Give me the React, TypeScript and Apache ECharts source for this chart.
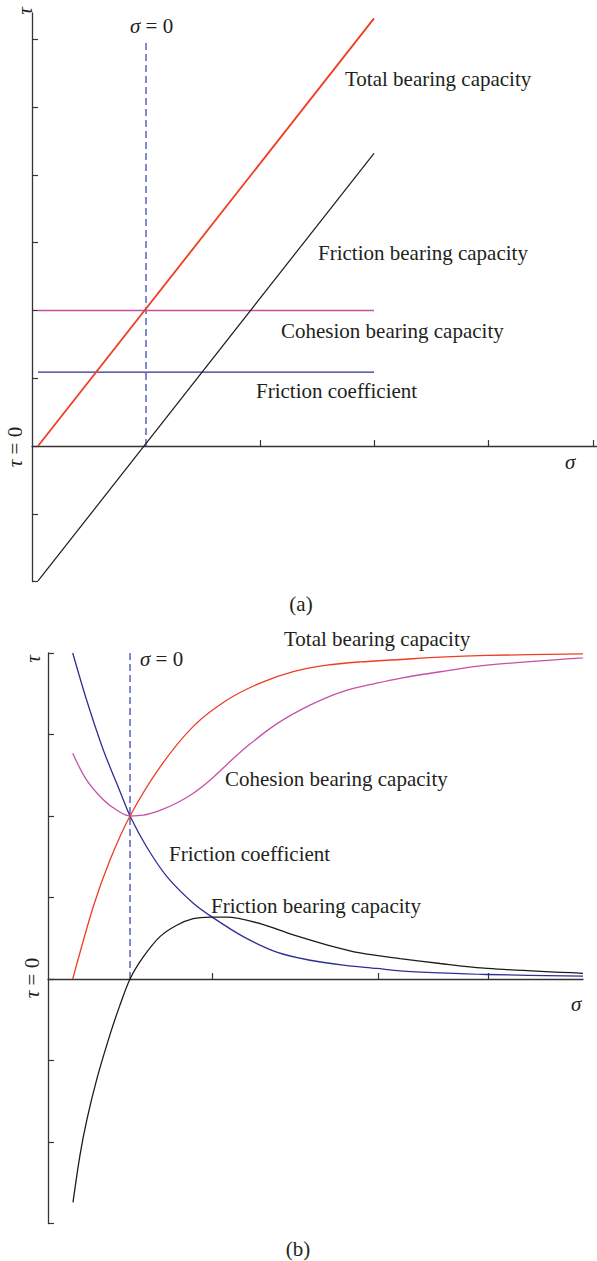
import React, { useEffect, useRef } from "react";
import * as echarts from "echarts";

// ---- Panel (a): linear model ----
const aSigma = [0.053, 3.0];
const aTotal = [0, 6.31];
const aFriction = [-1.99, 4.32];
const aCohesion = [2.0, 2.0];
const aCoefficient = [1.09, 1.09];
const aZeroLineSigma = 1.0;
const aZeroLineTau = [0, 6];
const aXTicks = [2, 3, 4, 4.92];
const aYTicks = [-2, -1, 0, 1, 2, 3, 4, 5, 6];

// ---- Panel (b): nonlinear model ----
const bTotalSigma = [0.462, 0.847, 1.159, 1.533, 2.093, 2.716, 3.34, 3.963, 4.585, 5.209, 5.832, 6.579, 7.33, 8.21, 10];
const bTotal = [0, 0.89, 1.46, 2.0, 2.6, 3.1, 3.42, 3.63, 3.77, 3.85, 3.89, 3.92, 3.95, 3.97, 3.99];

const bCohesionSigma = [0.462, 0.723, 1.034, 1.29, 1.533, 1.781, 2.093, 2.406, 2.716, 3.028, 3.34, 3.714, 4.275, 4.897, 5.52, 6.144, 6.579, 7.33, 8.21, 10];
const bCohesion = [2.77, 2.44, 2.2, 2.07, 2.0, 2.01, 2.07, 2.16, 2.28, 2.44, 2.63, 2.85, 3.13, 3.36, 3.53, 3.63, 3.69, 3.77, 3.85, 3.94];

const bCoefficientSigma = [0.462, 0.723, 1.034, 1.346, 1.533, 1.845, 2.219, 2.716, 3.09, 3.65, 4.275, 4.897, 5.52, 6.144, 6.579, 7.33, 8.21, 10];
const bCoefficient = [4.0, 3.42, 2.81, 2.3, 2.0, 1.62, 1.26, 0.93, 0.75, 0.52, 0.33, 0.23, 0.17, 0.13, 0.1, 0.075, 0.055, 0.035];

const bFrictionSigma = [0.467, 0.598, 0.729, 0.916, 1.16, 1.34, 1.533, 1.781, 2.093, 2.406, 2.716, 3.028, 3.34, 3.963, 4.585, 5.209, 5.832, 6.579, 7.33, 8.21, 10];
const bFriction = [-2.74, -2.16, -1.72, -1.22, -0.68, -0.33, 0, 0.27, 0.52, 0.66, 0.74, 0.76, 0.76, 0.68, 0.54, 0.42, 0.32, 0.25, 0.19, 0.13, 0.07];

const bZeroLineSigma = 1.533;
const bZeroLineTau = [0, 4];
const bXTicks = [3.07, 6.17, 8.22];
const bYTicks = [-3, -2, -1, 0, 1, 2, 3, 4];

const RED = "#ef3d23";
const MAGENTA = "#c650a6";
const NAVY = "#2e2f95";
const BLACK = "#1b1b1b";
const DASH = "#5058b8";
const AXIS = "#333333";
const TEXT = "#231f20";
const FONT = "'Liberation Serif', 'DejaVu Serif', serif";

const pairs = (xs: number[], ys: number[]) => xs.map((x, i) => [x, ys[i]]);

const axisCommon = (ticks: number[]) => ({
  type: "value" as const,
  axisLine: { show: true, onZero: true, lineStyle: { color: AXIS, width: 1.3 } },
  axisTick: { show: true, inside: true, length: 6, customValues: ticks, lineStyle: { color: AXIS, width: 1.2 } },
  axisLabel: { show: false },
  splitLine: { show: false },
});

const lineSeries = (xi: number, data: number[][], color: string, width: number, smooth: number | boolean = false, dashed = false) => ({
  type: "line" as const,
  xAxisIndex: xi,
  yAxisIndex: xi,
  data,
  showSymbol: false,
  smooth,
  lineStyle: { color, width, type: dashed ? [7, 4] : "solid" },
  silent: true,
  z: dashed ? 1 : 3,
});

const label = (text: string, x: number, y: number, extra: any = {}) => ({
  type: "text",
  x,
  y,
  rotation: extra.rotation || 0,
  style: {
    text,
    font: `${extra.italic ? "italic " : ""}21px ${FONT}`,
    fill: TEXT,
    textAlign: extra.align || "left",
    textVerticalAlign: "middle",
    rich: {
      i: { fontStyle: "italic", fontSize: 21, fontFamily: FONT, fill: TEXT },
      n: { fontSize: 21, fontFamily: FONT, fill: TEXT },
    },
  },
});

export default function App() {
  const ref = useRef<HTMLDivElement>(null);

  useEffect(() => {
    if (!ref.current) return;
    const chart = echarts.init(ref.current, null, { renderer: "svg" });
    chart.setOption({
      animation: false,
      backgroundColor: "#ffffff",
      grid: [
        { left: 32, top: 13, width: 565, height: 568.6 },
        { left: 48, top: 653, width: 535, height: 570.5 },
      ],
      xAxis: [
        { ...axisCommon(aXTicks), gridIndex: 0, min: 0, max: 4.956 },
        { ...axisCommon(bXTicks), gridIndex: 1, min: 0, max: 10 },
      ],
      yAxis: [
        { ...axisCommon(aYTicks), gridIndex: 0, min: -2, max: 6.39 },
        { ...axisCommon(bYTicks), gridIndex: 1, min: -3, max: 4 },
      ],
      series: [
        lineSeries(0, [[aZeroLineSigma, aZeroLineTau[0]], [aZeroLineSigma, aZeroLineTau[1]]], DASH, 1.4, false, true),
        lineSeries(0, pairs(aSigma, aCoefficient), NAVY, 1.3),
        lineSeries(0, pairs(aSigma, aCohesion), MAGENTA, 1.3),
        lineSeries(0, pairs(aSigma, aFriction), BLACK, 1.2),
        lineSeries(0, pairs(aSigma, aTotal), RED, 1.8),

        lineSeries(1, [[bZeroLineSigma, bZeroLineTau[0]], [bZeroLineSigma, bZeroLineTau[1]]], DASH, 1.4, false, true),
        lineSeries(1, pairs(bCoefficientSigma, bCoefficient), NAVY, 1.3, 0.3),
        lineSeries(1, pairs(bCohesionSigma, bCohesion), MAGENTA, 1.3, 0.35),
        lineSeries(1, pairs(bFrictionSigma, bFriction), BLACK, 1.3, 0.3),
        lineSeries(1, pairs(bTotalSigma, bTotal), RED, 1.3, 0.3),
      ],
      graphic: [
        // panel (a)
        label("{i|σ}{n| = 0}", 130, 26),
        label("Total bearing capacity", 345, 79),
        label("Friction bearing capacity", 318, 253),
        label("Cohesion bearing capacity", 281, 331),
        label("Friction coefficient", 256, 391),
        label("σ", 565, 462, { italic: true }),
        label("τ", 25, 11, { italic: true, rotation: Math.PI / 2, align: "center" }),
        label("{i|τ}{n| = 0}", 15, 447, { rotation: Math.PI / 2, align: "center" }),
        label("(a)", 301, 604, { align: "center" }),
        // panel (b)
        label("Total bearing capacity", 284, 639),
        label("{i|σ}{n| = 0}", 140, 659),
        label("Cohesion bearing capacity", 225, 779),
        label("Friction coefficient", 169, 854),
        label("Friction bearing capacity", 211, 906),
        label("σ", 571, 1004, { italic: true }),
        label("τ", 33, 659, { italic: true, rotation: Math.PI / 2, align: "center" }),
        label("{i|τ}{n| = 0}", 32, 978, { rotation: Math.PI / 2, align: "center" }),
        label("(b)", 298, 1249, { align: "center" }),
      ],
    });
    return () => chart.dispose();
  }, []);

  return (
    <div
      ref={ref}
      style={{ position: "fixed", left: 0, top: 0, width: 597, height: 1261, background: "#fff" }}
    />
  );
}
